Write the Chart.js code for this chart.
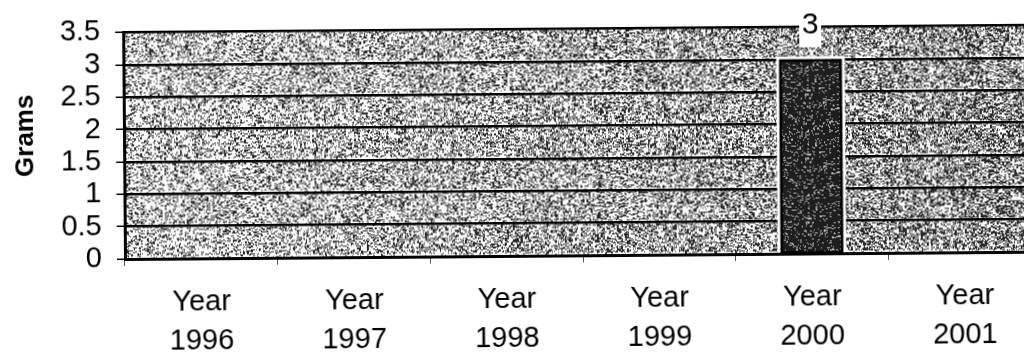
<!DOCTYPE html>
<html>
<head>
<meta charset="utf-8">
<script src="https://cdn.jsdelivr.net/npm/chart.js@4.4.1/dist/chart.umd.min.js"></script>
<style>
  html, body { margin: 0; padding: 0; background: #fff; overflow: hidden; width: 1024px; height: 354px; }
  #wrap { position: absolute; left: 0; top: 0; width: 1045px; height: 354px;
          transform: rotate(-0.46deg); transform-origin: 125px 259px; }
</style>
</head>
<body>
<div id="wrap"><canvas id="chart" width="1045" height="354"></canvas></div>
<script>
// Chart data
const categories = [["Year", "1996"], ["Year", "1997"], ["Year", "1998"], ["Year", "1999"], ["Year", "2000"], ["Year", "2001"]];
const grams = [null, null, null, null, 3, null];
const yTicks = [0, 0.5, 1, 1.5, 2, 2.5, 3, 3.5];
const yTitle = "Grams";

const FONT = "'Liberation Sans', Arial, sans-serif";

// Deterministic hash used to build the stippled fill textures
function hash(x, y, s) {
  let n = Math.imul(x, 374761393) ^ Math.imul(y, 668265263) ^ Math.imul(s, 1442695041);
  n = Math.imul(n ^ (n >>> 13), 1274126177);
  n ^= n >>> 16;
  return (n >>> 0) / 4294967296;
}

// Speckle made of small 2x1 grains plus single dots
function stippleCanvas(w, h, density, seed, dark, light) {
  const c = document.createElement('canvas');
  c.width = w; c.height = h;
  const g = c.getContext('2d');
  const img = g.createImageData(w, h);
  for (let y = 0; y < h; y++) {
    for (let x = 0; x < w; x++) {
      const d = density(x, y);
      const on = hash(x >> 1, y, seed) < d * 0.75 || hash(x, y, seed + 11) < d * 0.3;
      const v = on ? dark : light;
      const i = (y * w + x) * 4;
      img.data[i] = img.data[i + 1] = img.data[i + 2] = v;
      img.data[i + 3] = 255;
    }
  }
  g.putImageData(img, 0, 0);
  return c;
}

// Dark speckled fill for the bars
const barFill = document.getElementById('chart').getContext('2d')
  .createPattern(stippleCanvas(64, 64, () => 1.05, 7, 30, 185), 'repeat');

// Grey speckled plot background, a little darker toward the right
let plotTexture = null;
const plotBackground = {
  id: 'plotBackground',
  beforeDraw(chart) {
    const a = chart.chartArea;
    const w = Math.round(a.right - a.left), h = Math.round(a.bottom - a.top);
    if (!plotTexture || plotTexture.width !== w || plotTexture.height !== h) {
      const ys = chart.scales.y;
      const lines = yTicks.map(v => ys.getPixelForValue(v) - a.top);
      plotTexture = stippleCanvas(w, h, (x, y) => {
        let d = 0.3 + 0.24 * (x / w);
        for (const ly of lines) {
          if (ly - y > 0 && ly - y < 3) d *= 0.35;
        }
        return d;
      }, 3, 40, 250);
    }
    chart.ctx.drawImage(plotTexture, a.left, a.top);
  }
};

// Rotated bold axis title beside the value labels
const axisTitle = {
  id: 'axisTitle',
  afterDraw(chart) {
    const ctx = chart.ctx;
    ctx.save();
    ctx.translate(27, 135);
    ctx.rotate(-Math.PI / 2);
    ctx.fillStyle = '#000';
    ctx.font = 'bold 26px ' + FONT;
    ctx.textAlign = 'center';
    ctx.textBaseline = 'middle';
    ctx.fillText(yTitle, 0, 0);
    ctx.restore();
  }
};

// White halo and black outline around bars, boxed value labels above them
const barDecor = {
  id: 'barDecor',
  beforeDatasetsDraw(chart) {
    const ctx = chart.ctx;
    chart.getDatasetMeta(0).data.forEach((bar, i) => {
      if (grams[i] == null) return;
      const p = bar.getProps(['x', 'y', 'base', 'width'], true);
      ctx.save();
      ctx.fillStyle = '#fff';
      ctx.fillRect(p.x - p.width / 2 - 3, p.y - 3, p.width + 6, p.base - p.y + 3);
      ctx.restore();
    });
  },
  afterDatasetsDraw(chart) {
    const ctx = chart.ctx;
    chart.getDatasetMeta(0).data.forEach((bar, i) => {
      if (grams[i] == null) return;
      const p = bar.getProps(['x', 'y', 'base', 'width'], true);
      ctx.save();
      ctx.strokeStyle = '#000';
      ctx.lineWidth = 2.5;
      ctx.strokeRect(p.x - p.width / 2 + 1.25, p.y + 1.25, p.width - 2.5, p.base - p.y - 1.25);
      const ty = p.y - 34;
      ctx.fillStyle = '#fff';
      ctx.fillRect(p.x - 11, ty - 15, 22, 37);
      ctx.fillStyle = '#000';
      ctx.font = '30px ' + FONT;
      ctx.textAlign = 'center';
      ctx.textBaseline = 'middle';
      ctx.fillText(String(grams[i]), p.x, ty);
      ctx.restore();
    });
  }
};

new Chart(document.getElementById('chart'), {
  type: 'bar',
  data: {
    labels: categories,
    datasets: [{
      data: grams,
      backgroundColor: barFill,
      borderWidth: 0,
      categoryPercentage: 1,
      barPercentage: 0.41
    }]
  },
  options: {
    responsive: false,
    animation: false,
    events: [],
    layout: { padding: { left: 8, top: 25, right: 4, bottom: 0 } },
    plugins: { legend: { display: false }, tooltip: { enabled: false } },
    scales: {
      x: {
        grid: { drawOnChartArea: false, drawTicks: true, tickLength: 7, tickWidth: 1, tickColor: '#555', offset: true },
        border: { display: true, color: '#000', width: 3 },
        ticks: { color: '#000', padding: 18, maxRotation: 0, autoSkip: false,
                 font: { family: FONT, size: 29, lineHeight: 1.34 } },
        afterFit(s) { s.height = 95; }
      },
      y: {
        min: yTicks[0],
        max: yTicks[yTicks.length - 1],
        afterBuildTicks(s) { s.ticks = yTicks.map(v => ({ value: v })); },
        grid: { color: '#000', lineWidth: 2.5, tickLength: 8, tickWidth: 1.5, tickColor: '#000' },
        border: { display: true, color: '#000', width: 3 },
        ticks: { color: '#000', padding: 15, autoSkip: false, font: { family: FONT, size: 29 },
                 callback: v => String(v) },
        afterFit(s) { s.width = 117; }
      }
    }
  },
  plugins: [plotBackground, barDecor, axisTitle]
});
</script>
</body>
</html>
